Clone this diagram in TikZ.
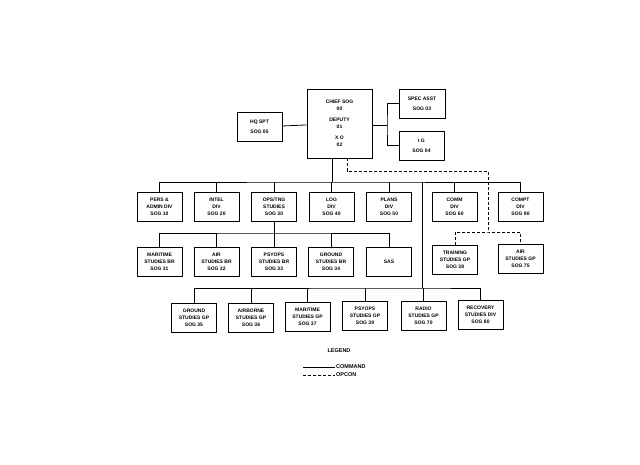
\documentclass[tikz,border=0pt]{standalone}
\usepackage{fontspec}
\setmainfont{Liberation Sans}
\tikzset{
	orgbox/.style={draw,thick,fill=white,minimum width=45pt,minimum height=29pt,inner sep=1pt,align=center,font=\fontsize{5}{7}\selectfont\bfseries},
	cmd/.style={thick,black},
	opc/.style={thick,black,dash pattern=on 3pt off 2pt}
}
\begin{document}
\begin{tikzpicture}[x=1pt,y=-1pt]
	\useasboundingbox (0,0) rectangle (640,465);
	% top
	\node[orgbox,minimum width=65pt,minimum height=69pt] (chief) at (339.5,123.5) {CHIEF SOG\\00\\[4pt]DEPUTY\\01\\[4pt]X O\\02};
	\node[orgbox] (hq) at (259.5,127) {HQ SPT\\[3pt]SOG 05};
	\node[orgbox,minimum width=46pt] (spec) at (422,103.5) {SPEC ASST\\[3pt]SOG 03};
	\node[orgbox] (ig) at (421.5,145.5) {I G\\[3pt]SOG 04};
	\draw[cmd] (hq) -- (chief);
	\coordinate (brk) at (387,125);
	\draw[cmd] (chief.east |- brk) -- (brk);
	\draw[cmd] (spec.west) -| (brk) |- (ig.west);
	% row 1
	\node[orgbox] (pers) at (159.5,207) {PERS \&\\ADMIN DIV\\SOG 10};
	\node[orgbox] (intel) at (216.5,207) {INTEL\\DIV\\SOG 20};
	\node[orgbox] (ops) at (274,207) {OPS/TNG\\STUDIES\\SOG 30};
	\node[orgbox] (log) at (331.5,207) {LOG\\DIV\\SOG 40};
	\node[orgbox] (plans) at (389,207) {PLANS\\DIV\\SOG 50};
	\node[orgbox] (comm) at (454.5,207) {COMM\\DIV\\SOG 60};
	\node[orgbox] (compt) at (520.5,207) {COMPT\\DIV\\SOG 90};
	\coordinate (busA) at (332,182);
	\draw[cmd] (chief.south -| busA) -- (busA);
	\draw[cmd] (pers.north) |- (busA) -| (compt.north);
	\foreach \n in {intel,ops,log,plans,comm}
		\draw[cmd] (\n.north) -- (\n.north |- busA);
	% row 2
	\node[orgbox] (mar) at (159.5,262) {MARITIME\\STUDIES BR\\SOG 31};
	\node[orgbox] (air) at (216.5,262) {AIR\\STUDIES BR\\SOG 32};
	\node[orgbox] (psy) at (274,262) {PSYOPS\\STUDIES BR\\SOG 33};
	\node[orgbox] (gnd) at (331,262) {GROUND\\STUDIES BR\\SOG 34};
	\node[orgbox] (sas) at (389,262) {SAS};
	\node[orgbox] (trn) at (455,259.5) {TRAINING\\STUDIES GP\\SOG 38};
	\node[orgbox] (airgp) at (520.5,258.5) {AIR\\STUDIES GP\\SOG 75};
	\coordinate (busB) at (274,233);
	\draw[cmd] (ops.south) -- (busB);
	\draw[cmd] (mar.north) |- (busB) -| (sas.north);
	\foreach \n in {air,psy,gnd}
		\draw[cmd] (\n.north) -- (\n.north |- busB);
	% opcon
	\coordinate (opA) at (347,171);
	\coordinate (opB) at (488,232);
	\draw[opc] (chief.south -| opA) -- (opA) -| (opB);
	\draw[opc] (trn.north) |- (opB) -| (airgp.north);
	% row 3
	\node[orgbox] (gndgp) at (194,318) {GROUND\\STUDIES GP\\SOG 35};
	\node[orgbox] (abn) at (251,318) {AIRBORNE\\STUDIES GP\\SOG 36};
	\node[orgbox] (margp) at (307.5,317) {MARITIME\\STUDIES GP\\SOG 37};
	\node[orgbox] (psygp) at (365,316) {PSYOPS\\STUDIES GP\\SOG 39};
	\node[orgbox] (radio) at (423.5,316) {RADIO\\STUDIES GP\\SOG 70};
	\node[orgbox] (rec) at (480.5,315) {RECOVERY\\STUDIES DIV\\SOG 80};
	\coordinate (busC) at (422,288);
	\draw[cmd] (busC |- busA) -- (busC);
	\draw[cmd] (gndgp.north) |- (busC) -| (rec.north);
	\foreach \n in {abn,margp,psygp,radio}
		\draw[cmd] (\n.north) -- (\n.north |- busC);
	% legend
	\node[font=\fontsize{5.5}{7}\selectfont\bfseries] (leg) at (339,351) {LEGEND};
	\coordinate (lc) at (303,367);
	\coordinate (lo) at (303,375);
	\node[anchor=west,font=\fontsize{5.5}{7}\selectfont\bfseries,inner sep=1pt] (lcmd) at (335,367) {COMMAND};
	\node[anchor=west,font=\fontsize{5.5}{7}\selectfont\bfseries,inner sep=1pt] (lopc) at (335,375) {OPCON};
	\draw[cmd] (lc) -- (lcmd.west);
	\draw[opc] (lo) -- (lopc.west);
\end{tikzpicture}
\end{document}
